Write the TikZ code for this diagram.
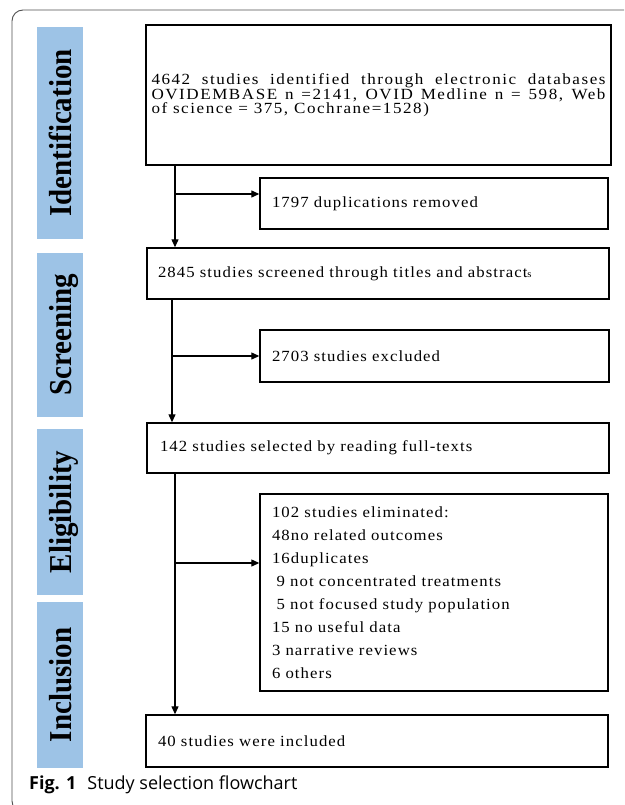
\documentclass[tikz,border=0pt]{standalone}
\usepackage{fontspec}
\setmainfont{Liberation Serif}
\newfontfamily\boxfontwide[FakeStretch=1.1,LetterSpace=10]{Liberation Serif}
\newfontfamily\boxfontmid[FakeStretch=1.08,LetterSpace=7]{Liberation Serif}
\newfontfamily\capfont{Open Sans}
\usetikzlibrary{arrows.meta}
\definecolor{barblue}{RGB}{157,195,230}
\definecolor{framegray}{RGB}{80,80,80}
\tikzset{
  bar/.style={fill=barblue, draw=none, inner sep=0pt, minimum width=46pt},
  lbl/.style={rotate=90, anchor=base, inner sep=0pt, font=\fontsize{29}{30}\selectfont\bfseries},
  box/.style={draw=black, line width=1.4pt, inner ysep=0pt, align=left, font=\boxfontmid\fontsize{15.5}{23}\selectfont},
  arr/.style={draw=black, line width=1.2pt, -{Triangle[length=8pt,width=7pt]}},
}
\begin{document}
\begin{tikzpicture}[x=1pt,y=-1pt]
\useasboundingbox (0,0) rectangle (624,805);
\begin{scope}
  \clip (0,0) rectangle (624,805);
  \draw[framegray, line width=0.9pt, rounded corners=11pt] (12,10) rectangle (700,812);
\end{scope}

% phase bars
\node[bar, minimum height=212pt] (bar1) at (60,133) {};
\node[bar, minimum height=164pt] (bar2) at (60,335) {};
\node[bar, minimum height=166pt] (bar3) at (60,512) {};
\node[bar, minimum height=166pt] (bar4) at (60,685) {};
\node[lbl] (l1) at (71,133) {\scalebox{1}[1.1]{Identification}};
\node[lbl] (l2) at (71,335) {\scalebox{1}[1.1]{Screening}};
\node[lbl] (l3) at (71,512) {\scalebox{1}[1.1]{Eligibility}};
\node[lbl] (l4) at (71,685) {\scalebox{1}[1.1]{Inclusion}};

% boxes
\node[box, minimum width=465pt, minimum height=140pt, inner xsep=2pt, text width=454pt, align=justify,
      font=\boxfontwide\fontsize{15.5}{14}\selectfont] (b1) at (378.5,95)
  {4642 studies identified through electronic databases\linebreak
   OVIDEMBASE n =2141, OVID Medline n = 598, Web\linebreak
   of science = 375, Cochrane=1528)};
\node[box, minimum width=348pt, minimum height=51pt, inner xsep=12pt, text width=324pt] (dup) at (434,203.5)
  {1797 duplications removed};
\node[box, minimum width=462pt, minimum height=51pt, inner xsep=11pt, text width=440pt] (b2) at (378,273.5)
  {2845 studies screened through titles and abstract{\fontsize{10}{12}\selectfont s}};
\node[box, minimum width=349pt, minimum height=52pt, inner xsep=12pt, text width=325pt] (excl) at (434.5,356)
  {2703 studies excluded};
\node[box, minimum width=462pt, minimum height=50pt, inner xsep=13pt, text width=436pt] (b3) at (378,448)
  {142 studies selected by reading full-texts};
\node[box, minimum width=348pt, minimum height=197pt, inner xsep=12pt, text width=324pt] (elim) at (434,592.5)
  {102 studies eliminated:\\
   48no related outcomes\\
   16duplicates\\
   \hspace*{0.3em}9 not concentrated treatments\\
   \hspace*{0.3em}5 not focused study population\\
   15 no useful data\\
   3 narrative reviews\\
   6 others};
\node[box, minimum width=462pt, minimum height=52pt, inner xsep=12pt, text width=438pt] (b4) at (377,741)
  {40 studies were included};

% junctions
\coordinate (j1) at (175,194);
\coordinate (j2) at (172,356);
\coordinate (j3) at (175,563);

\draw[arr] (b1.south -| j1) -- (b2.north -| j1);
\draw[arr] (j1) -- (j1 -| dup.west);
\draw[arr] (b2.south -| j2) -- (b3.north -| j2);
\draw[arr] (j2) -- (j2 -| excl.west);
\draw[arr] (b3.south -| j3) -- (b4.north -| j3);
\draw[arr] (j3) -- (j3 -| elim.west);

% caption
\node[anchor=base west, inner sep=0pt, font=\capfont\fontsize{18}{20}\selectfont] (cap) at (29,789)
  {\textbf{Fig. 1}\hspace{11pt}Study selection flowchart};
\end{tikzpicture}
\end{document}
